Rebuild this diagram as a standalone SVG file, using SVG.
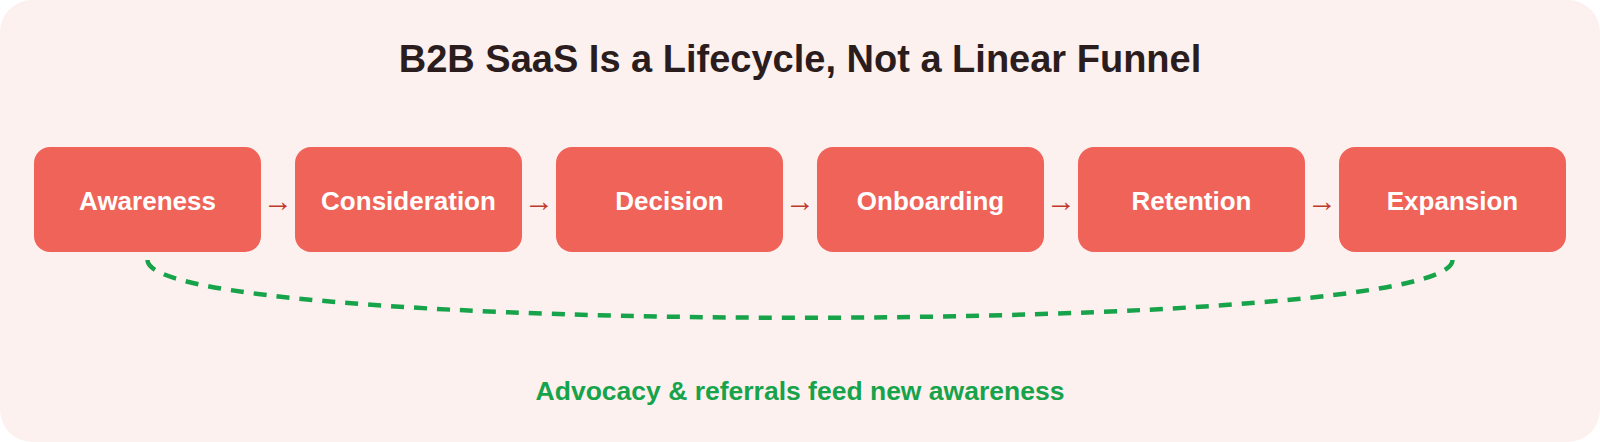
<svg xmlns="http://www.w3.org/2000/svg" width="1600" height="442" viewBox="0 0 1600 442">
<style>
.box{fill:#ef6359;}
.lbl{font-family:"Liberation Sans",Arial,sans-serif;font-weight:bold;font-size:26px;fill:#ffffff;text-anchor:middle;}
.arr{font-family:"Liberation Sans",Arial,sans-serif;font-size:30px;fill:#c0392b;text-anchor:middle;}
</style>
<rect x="0" y="0" width="1600" height="442" rx="32" fill="#fdf1ef"/>
<text x="800" y="72" font-family="Liberation Sans, Arial, sans-serif" font-weight="bold" font-size="38" fill="#2b1d1d" text-anchor="middle">B2B SaaS Is a Lifecycle, Not a Linear Funnel</text>
<g id="connectors">
<text class="arr" x="278" y="211">→</text>
<text class="arr" x="539" y="211">→</text>
<text class="arr" x="800" y="211">→</text>
<text class="arr" x="1061" y="211">→</text>
<text class="arr" x="1322" y="211">→</text>
<path d="M1452.5 260 C1452.5 337 147.5 337 147.5 260" fill="none" stroke="#16a34a" stroke-width="4.5" stroke-dasharray="13 10"/>
</g>
<g id="awareness"><rect class="box" x="34" y="147" width="227" height="105" rx="16"/><text class="lbl" x="147.5" y="210">Awareness</text></g>
<g id="consideration"><rect class="box" x="295" y="147" width="227" height="105" rx="16"/><text class="lbl" x="408.5" y="210">Consideration</text></g>
<g id="decision"><rect class="box" x="556" y="147" width="227" height="105" rx="16"/><text class="lbl" x="669.5" y="210">Decision</text></g>
<g id="onboarding"><rect class="box" x="817" y="147" width="227" height="105" rx="16"/><text class="lbl" x="930.5" y="210">Onboarding</text></g>
<g id="retention"><rect class="box" x="1078" y="147" width="227" height="105" rx="16"/><text class="lbl" x="1191.5" y="210">Retention</text></g>
<g id="expansion"><rect class="box" x="1339" y="147" width="227" height="105" rx="16"/><text class="lbl" x="1452.5" y="210">Expansion</text></g>
<text x="800" y="400" font-family="Liberation Sans, Arial, sans-serif" font-weight="bold" font-size="26.5" fill="#16a34a" text-anchor="middle">Advocacy &amp; referrals feed new awareness</text>
</svg>
